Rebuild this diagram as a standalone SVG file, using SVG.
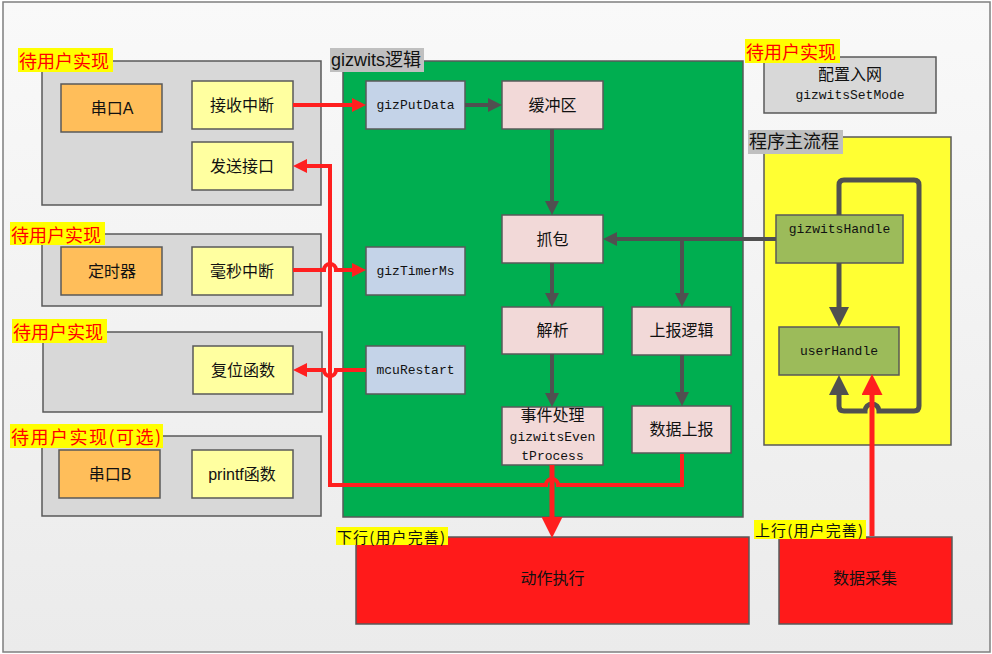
<svg xmlns="http://www.w3.org/2000/svg" width="992" height="654" viewBox="0 0 992 654">
<defs>
<linearGradient id="bg" x1="0" y1="0" x2="0" y2="1">
<stop offset="0" stop-color="#f9f9f9"/>
<stop offset="1" stop-color="#ebebeb"/>
</linearGradient>
<marker id="ar" markerUnits="userSpaceOnUse" viewBox="0 0 14 14" refX="7" refY="7" markerWidth="14" markerHeight="14" orient="auto"><path d="M0,0 L14,7 L0,14 Z" fill="#ff1f1f"/></marker>
<marker id="arBig" markerUnits="userSpaceOnUse" viewBox="0 0 21 21" refX="10" refY="10.5" markerWidth="21" markerHeight="21" orient="auto"><path d="M0,0 L21,10.5 L0,21 Z" fill="#ff1f1f"/></marker>
<marker id="ag" markerUnits="userSpaceOnUse" viewBox="0 0 14 14" refX="7" refY="7" markerWidth="14" markerHeight="14" orient="auto"><path d="M0,0 L14,7 L0,14 Z" fill="#505050"/></marker>
<marker id="agBig" markerUnits="userSpaceOnUse" viewBox="0 0 20 20" refX="10" refY="10" markerWidth="20" markerHeight="20" orient="auto"><path d="M0,0 L20,10 L0,20 Z" fill="#505050"/></marker>
</defs>
<style>
.grp{fill:#d8d8d8;stroke:#595959;stroke-width:1.5}
.org{fill:#ffbe5a;stroke:#595959;stroke-width:1.5}
.ylw{fill:#ffffa0;stroke:#595959;stroke-width:1.5}
.blu{fill:#c4d3e8;stroke:#595959;stroke-width:1.5}
.pnk{fill:#f2d9d8;stroke:#595959;stroke-width:1.5}
.olv{fill:#9cbb5a;stroke:#595959;stroke-width:1.5}
.redb{fill:#ff1a1a;stroke:#595959;stroke-width:1.5}
.t{font-family:"Liberation Sans","Noto Sans CJK SC",sans-serif;font-size:16px;fill:#111;text-anchor:middle;dominant-baseline:central}
.m{font-family:"Liberation Mono","Noto Sans CJK SC",monospace;font-size:13px;fill:#111;text-anchor:middle;dominant-baseline:central}
.lab{font-family:"Noto Sans CJK SC",sans-serif;font-size:18px;fill:#ff0000;dominant-baseline:central}
.labk{font-family:"Liberation Sans","Noto Sans CJK SC",sans-serif;font-size:18px;fill:#111;dominant-baseline:central}
.labs{font-family:"Noto Sans CJK SC",sans-serif;font-size:15px;fill:#111;dominant-baseline:central}
.rl{fill:none;stroke:#ff1f1f;stroke-width:4}
.gl{fill:none;stroke:#505050;stroke-width:4}
</style>
<rect x="3" y="2" width="987" height="650" fill="url(#bg)" stroke="#7f7f7f" stroke-width="1.5"/>

<g id="userA">
<rect class="grp" x="42" y="61" width="279" height="144"/>
<rect x="18" y="48" width="95" height="24" fill="#ffff00"/>
<text class="lab" x="19" y="60">待用户实现</text>
</g>
<g id="uartA"><rect class="org" x="61" y="84" width="101" height="48"/><text class="t" x="112" y="108">串口A</text></g>
<g id="rxIrq"><rect class="ylw" x="192" y="81" width="101" height="48"/><text class="t" x="242" y="105">接收中断</text></g>
<g id="txIf"><rect class="ylw" x="192" y="142" width="101" height="48"/><text class="t" x="242" y="166">发送接口</text></g>

<g id="userTimer">
<rect class="grp" x="42" y="234" width="279" height="72"/>
<rect x="10" y="222" width="95" height="23" fill="#ffff00"/>
<text class="lab" x="11" y="233.5">待用户实现</text>
</g>
<g id="timer"><rect class="org" x="61" y="247" width="101" height="48"/><text class="t" x="112" y="271">定时器</text></g>
<g id="msIrq"><rect class="ylw" x="192" y="247" width="101" height="48"/><text class="t" x="242" y="271">毫秒中断</text></g>

<g id="userReset">
<rect class="grp" x="43" y="332" width="279" height="80"/>
<rect x="12" y="319" width="95" height="24" fill="#ffff00"/>
<text class="lab" x="13" y="331">待用户实现</text>
</g>
<g id="resetFn"><rect class="ylw" x="193" y="346" width="100" height="48"/><text class="t" x="243" y="370">复位函数</text></g>

<g id="userOpt">
<rect class="grp" x="42" y="436" width="279" height="80"/>
<rect x="10" y="424" width="153" height="24" fill="#ffff00"/>
<text class="lab" x="11" y="436" textLength="150" lengthAdjust="spacing">待用户实现(可选)</text>
</g>
<g id="uartB"><rect class="org" x="59" y="450" width="101" height="48"/><text class="t" x="110" y="474">串口B</text></g>
<g id="printfFn"><rect class="ylw" x="192" y="450" width="101" height="48"/><text class="t" x="242" y="474">printf函数</text></g>

<g id="gizwits">
<rect x="343" y="61" width="400" height="456" fill="#00ae50" stroke="#595959" stroke-width="1.5"/>
<rect x="330" y="48" width="94" height="24" fill="#c0c0c0"/>
<text class="labk" x="331" y="60">gizwits逻辑</text>
</g>
<g id="gizPutData"><rect class="blu" x="366" y="81" width="99" height="48"/><text class="m" x="415.5" y="105">gizPutData</text></g>
<g id="gizTimerMs"><rect class="blu" x="366" y="247" width="99" height="48"/><text class="m" x="415.5" y="271">gizTimerMs</text></g>
<g id="mcuRestart"><rect class="blu" x="366" y="346" width="99" height="48"/><text class="m" x="415.5" y="370">mcuRestart</text></g>
<g id="buffer"><rect class="pnk" x="502" y="81" width="101" height="48"/><text class="t" x="552.5" y="105">缓冲区</text></g>
<g id="capture"><rect class="pnk" x="502" y="215" width="101" height="48"/><text class="t" x="552.5" y="239">抓包</text></g>
<g id="parse"><rect class="pnk" x="502" y="307" width="101" height="47"/><text class="t" x="552.5" y="330">解析</text></g>
<g id="event"><rect class="pnk" x="502" y="407" width="101" height="58"/>
<text class="t" x="552.5" y="415">事件处理</text>
<text class="m" x="552.5" y="437">gizwitsEven</text>
<text class="m" x="552.5" y="456">tProcess</text></g>
<g id="reportLogic"><rect class="pnk" x="632" y="307" width="99" height="48"/><text class="t" x="681.5" y="330">上报逻辑</text></g>
<g id="reportData"><rect class="pnk" x="632" y="406" width="99" height="47"/><text class="t" x="681.5" y="429">数据上报</text></g>

<g id="netConfig">
<rect class="grp" x="764" y="57" width="172" height="56"/>
<rect x="745" y="39" width="95" height="24" fill="#ffff00"/>
<text class="lab" x="746" y="51">待用户实现</text>
<text class="t" x="850" y="74">配置入网</text>
<text class="m" x="850" y="95">gizwitsSetMode</text>
</g>

<g id="mainFlow">
<rect x="764" y="137" width="187" height="308" fill="#ffff33" stroke="#595959" stroke-width="1.5"/>
<rect x="748" y="130" width="95" height="24" fill="#bfbfbf"/>
<text class="labk" x="749" y="142">程序主流程</text>
</g>
<g id="gizwitsHandle"><rect class="olv" x="776" y="215" width="127" height="48"/><text class="m" x="839.5" y="229">gizwitsHandle</text></g>
<g id="userHandle"><rect class="olv" x="779" y="327" width="120" height="48"/><text class="m" x="839" y="351">userHandle</text></g>

<g id="action">
<rect class="redb" x="356" y="537" width="393" height="87"/>
<text class="t" x="552.5" y="578">动作执行</text>
<rect x="336" y="527" width="112" height="18" fill="#ffff00"/>
<text class="labs" x="337" y="536" textLength="108" lengthAdjust="spacing">下行(用户完善)</text>
</g>
<g id="collect">
<rect class="redb" x="779" y="537" width="173" height="87"/>
<text class="t" x="865" y="578">数据采集</text>
</g>

<g id="connectors">
<path class="gl" d="M465,105 H495" marker-end="url(#ag)"/>
<path class="gl" d="M552,129 V208" marker-end="url(#ag)"/>
<path class="gl" d="M776,239 H610" marker-end="url(#ag)"/>
<path class="gl" d="M682,239 V300" marker-end="url(#ag)"/>
<path class="gl" d="M552,263 V300" marker-end="url(#ag)"/>
<path class="gl" d="M552,354 V400" marker-end="url(#ag)"/>
<path class="gl" d="M682,355 V399" marker-end="url(#ag)"/>
<path class="gl" style="stroke-width:5" d="M839,263 V317" marker-end="url(#agBig)"/>
<path class="gl" style="stroke-width:5" d="M839,215 V185 Q839,180 844,180 H914 Q919,180 919,185 V406 Q919,411 914,411 H879 A7,7 0 0 0 865,411 H844 Q839,411 839,406 V385" marker-end="url(#agBig)"/>
<path class="rl" d="M293,105 H359" marker-end="url(#ar)"/>
<path class="rl" d="M293,270 H324 A6,6 0 0 1 336,270 H359" marker-end="url(#ar)"/>
<path class="rl" d="M366,370 H336 A6,6 0 0 1 324,370 H300" marker-end="url(#ar)"/>
<path class="rl" d="M682,454 V485 H558 A6,6 0 0 0 546,485 H330 V166 H300" marker-end="url(#ar)"/>
<path class="rl" style="stroke-width:5" d="M552,465 V527" marker-end="url(#arBig)"/>
<path class="rl" style="stroke-width:5" d="M872,536 V385" marker-end="url(#arBig)"/>
</g>

<g id="upLabel">
<rect x="754" y="520" width="112" height="19" fill="#ffff00"/>
<text class="labs" x="755" y="529.5" textLength="108" lengthAdjust="spacing">上行(用户完善)</text>
</g>
</svg>
